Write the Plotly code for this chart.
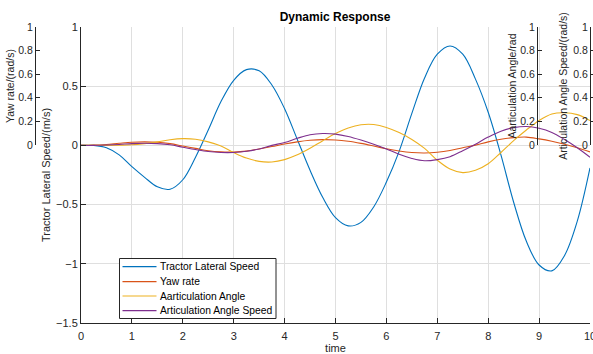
import plotly.graph_objects as go

t = [i * 0.25 for i in range(41)]

tractor_lateral_speed = [0, 0, -0.02, -0.08, -0.18, -0.27, -0.35, -0.37, -0.29, -0.1,
                         0.13, 0.37, 0.55, 0.64, 0.63, 0.51, 0.31, 0.05, -0.21, -0.44,
                         -0.61, -0.68, -0.65, -0.52, -0.31, -0.05, 0.27, 0.57, 0.77, 0.84,
                         0.77, 0.56, 0.28, -0.08, -0.48, -0.81, -1.01, -1.06, -0.93, -0.64, -0.19]
yaw_rate = [0, 0.002, 0.008, 0.018, 0.027, 0.03, 0.027, 0.015, -0.005, -0.025,
            -0.045, -0.055, -0.056, -0.048, -0.03, -0.01, 0.012, 0.03, 0.043, 0.049,
            0.046, 0.035, 0.017, -0.005, -0.028, -0.047, -0.06, -0.064, -0.058, -0.043,
            -0.02, 0.002, 0.03, 0.052, 0.066, 0.07, 0.055, 0.035, 0.01, -0.02, -0.055]
articulation_angle = [0, 0, 0, 0.002, 0.005, 0.015, 0.03, 0.048, 0.057, 0.052,
                      0.03, -0.005, -0.06, -0.107, -0.135, -0.14, -0.12, -0.08, -0.024, 0.04,
                      0.1, 0.147, 0.174, 0.176, 0.152, 0.108, 0.05, -0.025, -0.125, -0.2,
                      -0.23, -0.21, -0.155, -0.06, 0.04, 0.13, 0.21, 0.265, 0.276, 0.26, 0.21]
articulation_angle_speed = [0, 0, 0.003, 0.008, 0.015, 0.018, 0.015, 0.005, -0.015, -0.035,
                            -0.052, -0.06, -0.06, -0.05, -0.03, 0.0, 0.025, 0.06, 0.09, 0.1,
                            0.095, 0.075, 0.045, 0.01, -0.03, -0.075, -0.11, -0.13, -0.12, -0.095,
                            -0.045, 0.01, 0.07, 0.12, 0.15, 0.16, 0.145, 0.11, 0.05, -0.02, -0.1]

series = [
    ("Tractor Lateral Speed", tractor_lateral_speed, "#0072BD"),
    ("Yaw rate", yaw_rate, "#D95319"),
    ("Aarticulation Angle", articulation_angle, "#EDB120"),
    ("Articulation Angle Speed", articulation_angle_speed, "#7E2F8E"),
]

W, H = 593, 354
FONT = "Liberation Sans, Arial, sans-serif"
AX = "#262626"

fig = go.Figure()
for name, vals, col in series:
    fig.add_trace(go.Scatter(x=t, y=vals, name=name, mode="lines", showlegend=False,
                             line=dict(color=col, width=1.1, shape="spline", smoothing=1.0)))

# dummy traces so the small axes are drawn (on a hidden second x axis)
for ax in ["y2", "y3", "y4"]:
    fig.add_trace(go.Scatter(x=[None], y=[None], xaxis="x2", yaxis=ax,
                             showlegend=False, hoverinfo="skip"))


def px_x(p):
    return p / W


def px_y(p):
    return (H - p) / H


main_dom_x = [px_x(81), px_x(590)]
main_dom_y = [px_y(323), px_y(27)]
small_dom_y = [px_y(145), px_y(27)]

small_common = dict(range=[0, 1], dtick=0.2, showgrid=False, zeroline=False,
                    showline=True, linecolor=AX, linewidth=1, ticks="inside", ticklen=4,
                    tickcolor=AX, tickfont=dict(size=10.5, color=AX, family=FONT),
                    anchor="free", side="left", domain=small_dom_y,
                    ticklabeloverflow="allow", automargin=False)

# manual legend (box + sample lines + labels)
shapes = [dict(type="rect", xref="paper", yref="paper",
               x0=px_x(119.5), x1=px_x(276), y0=px_y(318.5), y1=px_y(258.5),
               line=dict(color=AX, width=1), fillcolor="white", layer="above")]
annotations = []
leg_rows = [266.7, 281.6, 296.0, 310.7]
for (name, _, col), yy in zip(series, leg_rows):
    shapes.append(dict(type="line", xref="paper", yref="paper",
                       x0=px_x(122.5), x1=px_x(156.5), y0=px_y(yy), y1=px_y(yy),
                       line=dict(color=col, width=1.2), layer="above"))
    annotations.append(dict(text=name, xref="paper", yref="paper", x=px_x(158.5),
                            y=px_y(yy), xanchor="left", yanchor="middle", showarrow=False,
                            font=dict(size=10.3, color="black", family=FONT)))

fig.update_layout(
    width=W, height=H,
    margin=dict(l=0, r=0, t=0, b=0, autoexpand=False),
    paper_bgcolor="white", plot_bgcolor="rgba(0,0,0,0)",
    font=dict(family=FONT, color=AX, size=11),
    title=dict(text="<b>Dynamic Response</b>", x=335 / W, xanchor="center",
               y=px_y(17), yanchor="middle", font=dict(size=12, color="black")),
    xaxis=dict(domain=main_dom_x, range=[0, 10], dtick=1,
               showgrid=True, gridcolor="#dfdfdf", zeroline=False,
               showline=True, linecolor=AX, ticks="inside", ticklen=5, tickcolor=AX,
               tickfont=dict(size=11, color=AX), anchor="y", ticklabelstandoff=3,
               ticklabeloverflow="allow", automargin=False,
               title=dict(text="time", standoff=1, font=dict(size=11, color=AX))),
    xaxis2=dict(domain=main_dom_x, range=[0, 10], visible=False, showgrid=False,
                zeroline=False, anchor="free", position=0),
    yaxis=dict(domain=main_dom_y, range=[-1.5, 1], dtick=0.5,
               showgrid=True, gridcolor="#dfdfdf", zeroline=False,
               showline=True, linecolor=AX, ticks="inside", ticklen=5, tickcolor=AX,
               tickfont=dict(size=11, color=AX), anchor="x", automargin=False,
               title=dict(text="Tractor Lateral Speed/(m/s)", standoff=3,
                          font=dict(size=11, color=AX))),
    yaxis2=dict(position=px_x(35),
                title=dict(text="Yaw rate/(rad/s)", standoff=0, font=dict(size=10.5, color=AX)),
                **small_common),
    yaxis3=dict(position=px_x(537),
                title=dict(text="Aarticulation Angle/rad", standoff=0, font=dict(size=10.5, color=AX)),
                **small_common),
    yaxis4=dict(position=px_x(590),
                title=dict(text="Articulation Angle Speed/(rad/s)", standoff=2, font=dict(size=10.5, color=AX)),
                **small_common),
    shapes=shapes,
    annotations=annotations,
    showlegend=False,
)

fig.write_html("out.html")
